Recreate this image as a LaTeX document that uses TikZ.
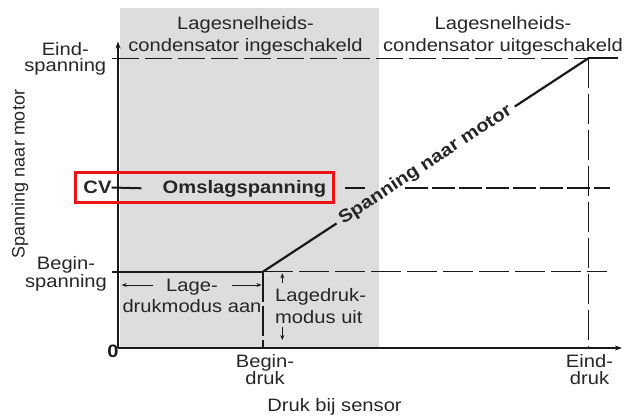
\documentclass[tikz,border=0pt]{standalone}
\usepackage{fontspec}
\setmainfont{Liberation Sans}[FakeStretch=1.12]
\newfontfamily\uprightlabelfont{Liberation Sans}
\usetikzlibrary{arrows.meta,calc}
\definecolor{txtc}{RGB}{38,38,38}
\definecolor{linec}{RGB}{25,25,25}
\definecolor{shadec}{RGB}{221,221,221}
\definecolor{boxred}{RGB}{235,20,20}
\begin{document}
\begin{tikzpicture}[x=1pt,y=-1pt,
  lbl/.style={text=txtc, inner sep=0pt, align=center},
  blbl/.style={text=txtc, inner sep=0pt, font=\fontsize{18}{21}\selectfont\bfseries},
  axisline/.style={draw=linec, line width=1.7pt, -{Stealth[length=7pt,width=5pt]}},
  guide/.style={draw=linec, line width=1.3pt, dash pattern=on 27pt off 6pt},
  guideb/.style={draw=linec, line width=1.3pt, dash pattern=on 30pt off 6pt},
  cvdash/.style={draw=linec, line width=2pt, dash pattern=on 23pt off 4pt},
  thickl/.style={draw=linec, line width=2.2pt},
  dropline/.style={draw=linec, line width=2.6pt, dash pattern=on 30pt off 4pt},
  smallarrow/.style={draw=linec, line width=0.9pt, -{Stealth[length=5pt,width=4pt]}}
]
\useasboundingbox (0,0) rectangle (626,415);
% shaded region
\fill[shadec] (120,8) rectangle (379,348);

% axes
\coordinate (O) at (118,348);
\coordinate (ytop) at (118,41.5);
\coordinate (xend) at (622,348);
\draw[axisline] (O) -- (ytop);
\draw[axisline] (O) -- (xend);

% end voltage guide
\coordinate (eL) at (112,58.3);
\coordinate (ed) at (588.3,58.3);
\coordinate (eR) at (618,58.3);
\coordinate (edB) at (588.3,348);
\draw[guide] (eL) -- (ed);
\draw[thickl] (ed) -- (eR);
\draw[guideb] (ed) -- (edB);

% begin voltage
\coordinate (bL) at (112,271.7);
\coordinate (bs) at (263,271.7);
\coordinate (bR) at (607,271.7);
\coordinate (bsB) at (263,348);
\draw[thickl] (bL) -- (bs);
\draw[guideb] (bs) -- (bR);
\draw[dropline] (bs) -- (bsB);

% ramp with label
\path (bs) -- (ed) node[midway, sloped, inner sep=5pt, text=txtc,
  font=\fontsize{18}{21}\selectfont\bfseries] (ramp) {Spanning naar motor};
\draw[thickl] (bs) -- (ramp);
\draw[thickl] (ramp) -- (ed);

% CV line
\node[blbl] (cv) at (97.5,187.5) {CV};
\node[blbl] (oms) at (244.5,188.5) {Omslagspanning};
\coordinate (cvA) at (141.5,188.3);
\draw[thickl, line width=2pt] (cv.east) -- (cvA);
\coordinate (cvB) at (345,188.3);
\coordinate (cvC) at (365,188.3);
\coordinate (cvD) at (405,188.3);
\coordinate (cvE) at (610,188.3);
\draw[cvdash] (cvB) -- (cvC) (cvD) -- (cvE);
\draw[boxred, line width=3pt] (75.5,172.3) rectangle (333.3,202);

% labels
\node[lbl, font=\fontsize{18}{21.7}\selectfont] (topL) at (245.5,36) {Lagesnelheids-\\condensator ingeschakeld};
\node[lbl, font=\fontsize{18}{21.7}\selectfont] (topR) at (503,35.5) {Lagesnelheids-\\condensator uitgeschakeld};
\node[lbl, font=\fontsize{18}{16}\selectfont] (eindsp) at (65.3,58.4) {Eind-\\spanning};
\node[lbl, font=\fontsize{18}{18}\selectfont] (beginsp) at (66,274) {Begin-\\spanning};
\node[lbl, font=\fontsize{18}{17.5}\selectfont] (begind) at (265,369.5) {Begin-\\druk};
\node[lbl, font=\fontsize{18}{17.5}\selectfont] (eindd) at (589.5,369.5) {Eind-\\druk};
\node[lbl, font=\fontsize{18}{21}\selectfont, anchor=base] (xlab) at (334.5,411) {Druk bij sensor};
\node[text=txtc, inner sep=0pt, rotate=90, font=\uprightlabelfont\fontsize{18}{21}\selectfont] (ylab) at (20,174) {Spanning naar motor};
\node[text=linec, inner sep=0pt, font=\fontsize{18}{21}\selectfont\bfseries] (zero) at (113,351) {0};

\node[lbl, font=\fontsize{18}{21}\selectfont] (aan) at (192,296) {Lage-\\drukmodus aan};
\node[lbl, align=left, anchor=west, font=\fontsize{18}{22}\selectfont] (uit) at (275,305.8) {Lagedruk-\\modus uit};

% small arrows
\coordinate (aL1) at (153.3,285);
\coordinate (aL2) at (121.7,285);
\coordinate (aR1) at (231.7,285);
\coordinate (aR2) at (261.5,285);
\draw[smallarrow] (aL1) -- (aL2);
\draw[smallarrow] (aR1) -- (aR2);
\coordinate (uU1) at (282.3,283.3);
\coordinate (uU2) at (282.3,273.3);
\coordinate (uD1) at (282.3,326.7);
\coordinate (uD2) at (282.3,340);
\draw[smallarrow] (uU1) -- (uU2);
\draw[smallarrow] (uD1) -- (uD2);
\end{tikzpicture}
\end{document}
